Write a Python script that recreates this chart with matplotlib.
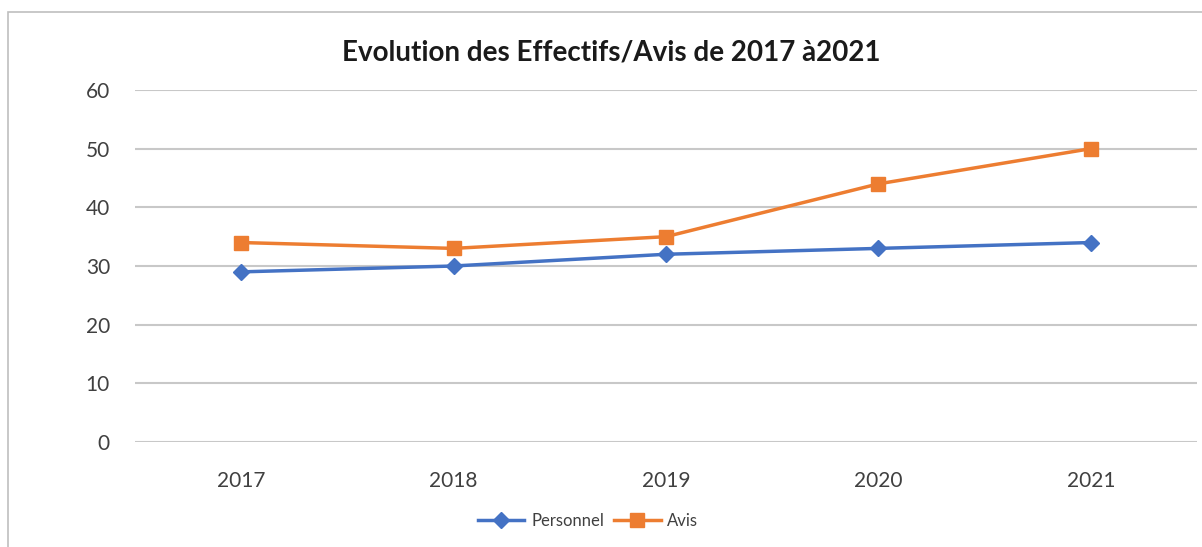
import matplotlib.pyplot as plt
from matplotlib.patches import Rectangle

years = ["2017", "2018", "2019", "2020", "2021"]
personnel = [29, 30, 32, 33, 34]
avis = [34, 33, 35, 44, 50]

plt.rcParams['font.family'] = ['Lato', 'DejaVu Sans']

fig = plt.figure(figsize=(12.02, 5.47), dpi=100)
ax = fig.add_axes([135 / 1202, 105 / 547, 1062 / 1202, 352 / 547])

x = range(len(years))
ax.plot(x, personnel, color='#4472C4', lw=2.5, marker='D', ms=8, label='Personnel')
ax.plot(x, avis, color='#ED7D31', lw=2.5, marker='s', ms=10, label='Avis')

ax.set_xlim(-0.5, len(years) - 0.5)
ax.set_ylim(0, 60)
ax.set_yticks(range(0, 61, 10))
ax.set_xticks(list(x))
ax.set_xticklabels(years)
ax.tick_params(axis='both', length=0, labelsize=15, labelcolor='#404040')
ax.tick_params(axis='y', pad=18)
ax.tick_params(axis='x', pad=21)
ax.grid(axis='y', color='#c8c8c8', lw=1.5)
ax.set_axisbelow(True)
for s in ax.spines.values():
    s.set_visible(False)

fig.text(611 / 1202, 1 - 52 / 547, "Evolution des Effectifs/Avis de 2017 à2021",
         ha='center', va='center', fontsize=20, fontweight='bold', color='#1a1a1a')

fig.legend(loc='center', bbox_to_anchor=(588 / 1202, 1 - 521 / 547), ncol=2,
           frameon=False, fontsize=12, handlelength=2.8, columnspacing=0.6,
           handletextpad=0.4, labelcolor='#404040')

fig.patches.append(Rectangle((8 / 1202, -0.1), 1.2, 1 - 12 / 547 + 0.1,
                             transform=fig.transFigure, fill=False,
                             edgecolor='#bfbfbf', lw=1.2))

fig.savefig('out.png', dpi=100)
